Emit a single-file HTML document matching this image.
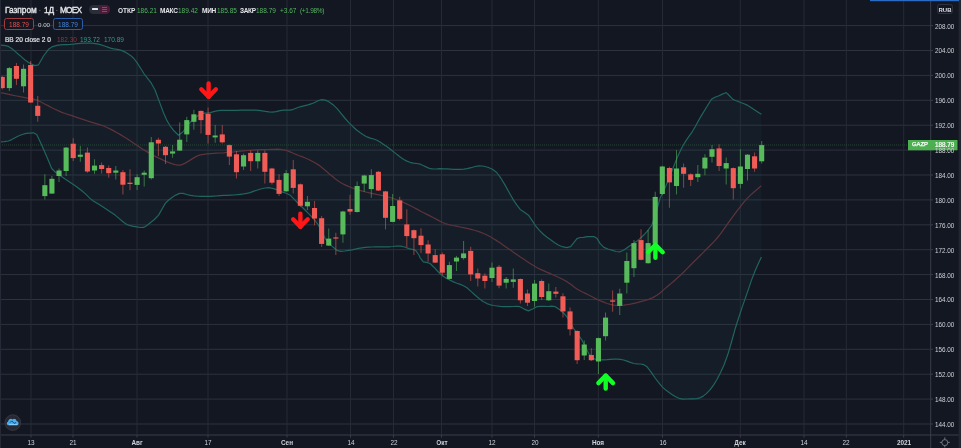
<!DOCTYPE html>
<html><head><meta charset="utf-8"><title>GAZP</title>
<style>
html,body{margin:0;padding:0;background:#131722;}
body{width:961px;height:448px;position:relative;overflow:hidden;font-family:"Liberation Sans",sans-serif;}
.t{position:absolute;white-space:nowrap;line-height:1;font-family:"Liberation Sans",sans-serif;will-change:transform;-webkit-font-smoothing:antialiased;}
.box{position:absolute;box-sizing:border-box;border-radius:2.5px;}
</style></head><body>
<svg width="961" height="448" viewBox="0 0 961 448" style="position:absolute;left:0;top:0">
<rect x="0" y="0" width="961" height="448" fill="#131722"/>
<path d="M0,25.6 H930.5 M0,50.5 H930.5 M0,75.4 H930.5 M0,100.3 H930.5 M0,125.2 H930.5 M0,150.1 H930.5 M0,175.0 H930.5 M0,199.9 H930.5 M0,224.8 H930.5 M0,249.7 H930.5 M0,274.6 H930.5 M0,299.5 H930.5 M0,324.4 H930.5 M0,349.3 H930.5 M0,374.2 H930.5 M0,399.1 H930.5 M0,424.0 H930.5" stroke="#2e323e" stroke-width="1" fill="none"/>
<path d="M31,0 V434.5 M73,0 V434.5 M137,0 V434.5 M208,0 V434.5 M287,0 V434.5 M350.5,0 V434.5 M393.5,0 V434.5 M441.5,0 V434.5 M492,0 V434.5 M534.5,0 V434.5 M598.3,0 V434.5 M662.5,0 V434.5 M740.3,0 V434.5 M804,0 V434.5 M846.3,0 V434.5 M903.7,0 V434.5" stroke="#262a35" stroke-width="1" fill="none"/>
<path d="M0.0,45.1 L4.2,45.4 L8.4,46.4 L11.7,48.5 L15.1,51.4 L18.4,54.3 L21.5,56.9 L24.7,59.7 L27.9,62.1 L31.0,63.8 L34.8,65.6 L38.5,64.8 L43.5,56.0 L48.5,49.3 L52.7,46.6 L56.9,45.4 L60.2,44.8 L63.6,44.7 L66.9,44.6 L70.2,44.4 L73.6,44.1 L77.0,43.7 L80.3,43.4 L83.7,43.2 L87.0,43.1 L90.4,43.2 L93.7,43.4 L97.1,43.9 L100.4,44.6 L103.8,45.7 L107.1,46.9 L110.5,48.1 L113.8,48.9 L117.2,49.4 L120.5,50.1 L123.8,51.4 L127.2,53.2 L130.5,55.4 L133.9,58.5 L137.2,62.9 L140.6,68.2 L143.9,73.5 L147.6,78.3 L151.3,83.2 L155.0,90.0 L160.0,103.4 L163.3,112.3 L166.7,120.1 L170.1,125.8 L173.4,130.2 L178.5,135.2 L182.8,132.0 L187.0,126.0 L190.5,122.1 L194.0,118.5 L197.5,115.9 L201.0,114.0 L204.1,113.2 L207.2,113.0 L210.3,112.6 L213.6,111.7 L216.9,110.9 L220.3,110.4 L223.6,110.3 L227.0,110.3 L230.3,110.4 L233.7,110.4 L237.3,110.3 L240.9,110.2 L244.5,110.1 L248.0,110.1 L251.6,110.1 L255.2,110.2 L258.8,110.4 L262.1,110.8 L265.5,111.4 L268.9,111.9 L272.2,112.1 L276.1,111.6 L280.0,110.7 L283.9,110.1 L286.9,110.2 L290.0,110.1 L293.3,109.3 L296.7,108.0 L300.0,106.8 L303.9,105.8 L307.9,104.8 L311.8,103.7 L315.1,102.2 L318.5,100.5 L321.8,99.7 L325.1,100.1 L328.5,101.4 L332.7,104.4 L336.9,108.4 L341.0,113.3 L345.2,118.5 L349.1,122.8 L353.0,126.7 L356.9,130.2 L360.3,132.8 L363.6,135.0 L367.0,136.9 L370.3,138.1 L373.7,139.0 L377.0,140.2 L380.4,142.2 L383.7,144.4 L387.1,146.8 L390.4,149.3 L393.8,151.9 L397.1,154.6 L400.5,157.2 L403.8,159.5 L406.9,161.1 L410.0,162.3 L413.4,163.1 L416.9,163.5 L420.3,164.2 L423.7,165.7 L427.0,167.4 L430.4,168.7 L433.7,169.0 L437.1,168.9 L440.4,168.7 L443.8,168.8 L447.1,168.9 L450.4,169.1 L453.8,169.3 L457.1,169.4 L460.5,169.3 L463.8,169.1 L467.2,168.7 L471.1,167.7 L475.0,166.5 L478.9,165.9 L482.1,166.0 L485.2,166.5 L488.4,167.5 L492.5,169.3 L496.7,172.5 L500.9,178.2 L505.1,185.1 L509.3,192.7 L513.5,200.1 L516.9,205.2 L520.2,209.4 L524.4,212.2 L528.5,215.2 L531.9,220.1 L535.2,225.3 L539.4,230.3 L543.6,234.5 L547.0,237.2 L550.3,239.5 L554.3,242.4 L558.3,245.0 L562.3,246.7 L566.5,247.7 L570.6,246.7 L573.8,242.7 L577.0,238.6 L580.2,237.5 L583.5,237.3 L587.0,236.7 L590.5,236.6 L593.9,236.6 L597.2,238.6 L600.0,243.4 L603.9,247.4 L607.9,249.0 L611.8,250.1 L616.0,251.5 L620.1,251.8 L624.3,249.8 L628.5,246.8 L632.4,244.3 L636.3,241.6 L640.2,238.4 L643.5,235.3 L646.9,231.7 L651.9,225.0 L656.5,211.0 L660.0,198.3 L663.4,191.6 L666.2,185.1 L669.0,178.2 L673.5,167.0 L677.9,155.9 L680.7,150.0 L683.5,144.7 L686.5,139.9 L689.5,135.7 L692.5,131.3 L695.5,126.2 L698.4,120.8 L701.4,115.6 L706.5,107.2 L711.5,99.3 L713.5,98.0 L716.2,96.7 L719.0,95.7 L721.8,94.4 L724.5,93.2 L726.2,92.6 L727.8,94.0 L732.9,99.3 L735.0,100.3 L740.0,102.2 L743.5,103.5 L747.1,105.1 L749.0,106.2 L754.0,109.6 L757.7,112.0 L761.4,114.3 L761.4,256.9 L758.0,264.3 L754.6,272.1 L751.6,279.9 L748.7,288.4 L745.7,297.1 L742.1,307.4 L738.6,318.0 L735.0,329.3 L731.5,342.0 L727.9,354.3 L724.3,364.2 L720.7,372.3 L717.1,379.3 L713.5,385.2 L710.0,389.9 L706.4,393.6 L703.2,396.1 L700.0,397.8 L696.9,398.6 L693.7,398.8 L690.6,398.8 L686.7,399.0 L682.8,399.1 L678.9,398.3 L674.7,396.3 L670.5,393.6 L666.4,390.6 L662.2,386.9 L658.9,382.9 L655.5,378.5 L651.3,372.3 L647.1,366.8 L643.8,364.7 L640.4,364.0 L637.1,363.9 L633.7,363.5 L630.4,362.4 L627.0,361.1 L623.6,360.0 L620.3,359.3 L617.0,359.2 L613.8,359.2 L610.4,359.4 L607.1,359.7 L603.8,359.9 L600.4,359.8 L597.0,359.7 L593.7,358.6 L588.7,353.6 L585.4,347.2 L582.0,340.2 L577.8,334.2 L573.6,328.5 L570.2,322.5 L566.9,316.8 L563.5,313.0 L560.2,310.1 L555.2,306.7 L551.6,306.2 L548.0,306.5 L544.5,306.4 L541.0,306.4 L536.8,306.7 L532.6,309.0 L528.4,310.9 L524.2,309.1 L520.0,306.7 L516.7,306.3 L513.3,306.5 L510.0,306.7 L506.8,306.6 L503.5,306.6 L500.2,306.4 L497.0,306.0 L493.6,305.5 L490.3,304.8 L486.9,303.6 L483.0,301.4 L479.1,298.5 L475.2,295.3 L471.0,291.4 L466.9,287.7 L463.5,285.7 L460.2,284.4 L456.9,283.3 L453.5,281.9 L449.6,280.0 L445.7,277.9 L441.8,275.2 L437.9,271.5 L433.9,267.2 L430.0,263.5 L426.7,262.4 L423.3,261.8 L420.0,257.6 L418.9,255.0 L415.6,250.4 L412.2,249.3 L408.9,248.6 L404.7,247.0 L400.5,246.1 L396.6,246.0 L392.7,246.5 L388.8,246.9 L385.4,246.9 L382.1,246.9 L378.8,246.9 L375.4,246.9 L372.0,247.0 L368.7,247.2 L365.4,247.4 L362.0,247.8 L358.6,248.4 L355.3,249.1 L352.0,249.8 L348.6,250.3 L344.7,251.0 L340.8,251.4 L336.9,250.3 L331.9,246.1 L328.5,242.9 L325.2,238.6 L321.9,232.0 L318.5,225.2 L314.3,219.6 L310.1,215.1 L305.9,210.8 L301.7,206.8 L298.4,203.5 L295.0,200.1 L290.3,195.3 L286.1,193.2 L281.9,191.9 L277.8,190.1 L273.6,188.6 L268.6,187.7 L264.7,188.0 L260.7,189.0 L256.8,190.2 L253.4,191.4 L250.0,192.6 L246.8,193.4 L243.7,193.9 L240.5,194.3 L237.3,194.7 L234.0,195.0 L230.6,195.1 L227.2,195.3 L223.9,195.4 L220.6,195.6 L217.2,195.9 L213.9,196.1 L210.5,196.3 L207.2,196.4 L203.8,196.4 L200.5,196.3 L197.1,196.1 L193.8,195.8 L190.4,195.4 L186.8,194.5 L183.1,193.4 L179.5,193.4 L175.8,195.1 L172.0,197.6 L168.7,200.0 L165.3,203.4 L161.9,209.2 L158.6,215.1 L154.4,219.5 L150.3,222.7 L146.9,225.5 L143.6,227.4 L140.2,227.5 L136.9,226.9 L133.5,226.4 L130.2,225.7 L126.8,224.4 L122.9,221.8 L119.0,218.4 L115.1,215.1 L111.3,212.4 L107.5,210.0 L103.8,207.6 L100.0,205.1 L96.7,203.0 L93.3,201.0 L90.0,198.4 L85.2,193.6 L81.8,190.7 L78.5,188.2 L75.2,185.8 L71.8,183.5 L68.5,181.2 L65.1,179.1 L61.8,176.8 L58.5,174.6 L55.2,172.0 L51.7,168.5 L46.9,156.9 L41.8,145.2 L36.7,134.5 L33.4,132.8 L30.1,133.1 L26.2,133.4 L22.3,134.5 L18.4,136.0 L15.1,137.7 L11.7,139.6 L8.4,141.0 L4.2,141.6 L0.0,141.8Z" fill="#26a69a" fill-opacity="0.05" stroke="none"/>
<path d="M0,145 H908" stroke="#3f8a43" stroke-width="1" stroke-dasharray="1,1" fill="none" opacity="0.4"/>
<path d="M0.0,92.5 L3.3,93.2 L6.7,93.9 L10.0,94.6 L13.3,95.4 L16.7,96.0 L20.0,96.7 L23.8,97.4 L27.5,98.1 L30.6,98.6 L33.6,99.2 L36.7,100.0 L40.9,102.0 L45.1,104.2 L48.5,105.9 L51.8,107.7 L55.1,109.3 L58.5,110.9 L61.8,112.3 L65.2,113.5 L68.5,114.6 L71.9,115.7 L75.2,116.8 L79.0,118.1 L82.8,119.3 L86.5,120.6 L90.3,121.8 L93.7,122.8 L97.0,123.8 L100.3,124.8 L103.7,126.0 L107.0,127.5 L110.4,129.1 L113.8,130.9 L117.1,132.7 L120.4,134.6 L123.8,136.7 L127.2,138.8 L130.5,141.0 L133.8,143.2 L137.2,145.5 L140.5,147.7 L143.8,149.9 L147.2,151.9 L150.5,153.9 L153.7,155.6 L156.8,157.1 L160.0,158.6 L164.2,160.6 L168.4,162.4 L171.7,163.7 L175.0,164.6 L177.8,165.1 L180.6,165.1 L184.8,163.4 L189.0,160.9 L192.9,158.4 L196.9,156.1 L200.2,154.9 L203.6,154.3 L207.0,153.9 L210.3,153.6 L213.6,153.3 L216.9,153.1 L220.3,153.0 L223.6,152.8 L226.9,152.5 L230.3,152.2 L233.7,151.9 L237.0,151.5 L240.3,151.2 L243.7,150.8 L247.1,150.5 L250.4,150.3 L253.8,150.1 L257.1,149.9 L260.5,149.7 L263.8,149.5 L267.2,149.5 L270.5,149.4 L273.8,149.3 L277.1,149.2 L280.5,149.3 L283.8,149.8 L287.1,150.6 L291.2,152.3 L295.3,154.2 L298.6,155.5 L302.0,156.7 L305.4,158.0 L308.7,159.5 L312.1,161.2 L315.4,163.0 L318.8,165.1 L322.1,167.7 L325.5,170.6 L328.8,173.5 L332.2,176.3 L335.5,179.1 L338.9,181.5 L342.2,183.5 L345.6,185.1 L348.9,186.6 L352.2,187.9 L355.6,189.1 L358.9,190.1 L362.4,191.1 L365.9,192.0 L369.5,192.8 L373.0,193.6 L376.6,194.4 L380.2,195.1 L383.9,195.9 L387.5,196.8 L391.2,197.9 L394.9,199.0 L398.5,200.3 L402.2,201.8 L406.1,203.6 L410.0,205.5 L413.4,207.3 L416.9,209.1 L420.3,211.0 L423.7,212.8 L426.8,214.4 L429.9,215.9 L433.0,217.5 L437.0,219.6 L441.0,221.7 L445.0,223.5 L448.8,224.7 L452.5,225.5 L456.2,226.2 L460.0,227.0 L463.4,227.7 L466.8,228.4 L470.2,229.1 L473.6,230.0 L476.9,231.0 L480.2,232.2 L483.6,233.5 L486.9,235.0 L490.3,236.8 L493.6,238.8 L497.0,240.9 L500.4,243.1 L503.7,245.4 L507.0,247.8 L510.4,250.1 L513.8,252.4 L517.1,254.8 L520.4,257.1 L523.8,259.3 L527.1,261.5 L530.5,263.7 L533.9,265.8 L537.2,267.7 L540.5,269.4 L543.9,270.9 L547.2,272.3 L550.6,273.7 L553.9,275.2 L557.2,276.8 L560.6,278.3 L563.9,280.0 L567.3,281.9 L571.1,284.5 L574.8,287.4 L578.6,290.0 L582.0,291.8 L585.3,293.4 L588.7,295.0 L592.6,297.0 L596.5,299.1 L600.4,300.9 L603.8,302.2 L607.1,303.5 L610.4,304.4 L613.8,305.1 L617.1,305.4 L620.5,305.4 L623.9,305.1 L627.2,304.7 L630.5,304.2 L633.9,303.4 L637.2,302.6 L640.5,301.7 L644.5,300.6 L648.6,299.3 L652.8,297.6 L656.9,295.3 L660.3,292.8 L663.6,289.9 L667.0,286.9 L670.4,284.1 L673.7,281.2 L677.0,278.3 L680.4,275.2 L683.8,272.0 L687.1,268.6 L690.4,265.2 L693.8,261.8 L696.9,258.7 L700.0,255.7 L703.1,252.6 L706.2,249.5 L709.9,245.8 L713.5,242.1 L717.2,238.0 L720.5,233.8 L723.9,229.2 L727.2,224.4 L730.6,219.6 L733.9,215.1 L737.2,210.7 L740.6,206.4 L743.9,202.2 L747.3,198.4 L750.8,194.9 L754.3,191.7 L757.9,188.7 L761.4,185.6" stroke="#5e333a" stroke-width="1.25" fill="none" stroke-linejoin="round"/>
<path d="M0.0,45.1 L4.2,45.4 L8.4,46.4 L11.7,48.5 L15.1,51.4 L18.4,54.3 L21.5,56.9 L24.7,59.7 L27.9,62.1 L31.0,63.8 L34.8,65.6 L38.5,64.8 L43.5,56.0 L48.5,49.3 L52.7,46.6 L56.9,45.4 L60.2,44.8 L63.6,44.7 L66.9,44.6 L70.2,44.4 L73.6,44.1 L77.0,43.7 L80.3,43.4 L83.7,43.2 L87.0,43.1 L90.4,43.2 L93.7,43.4 L97.1,43.9 L100.4,44.6 L103.8,45.7 L107.1,46.9 L110.5,48.1 L113.8,48.9 L117.2,49.4 L120.5,50.1 L123.8,51.4 L127.2,53.2 L130.5,55.4 L133.9,58.5 L137.2,62.9 L140.6,68.2 L143.9,73.5 L147.6,78.3 L151.3,83.2 L155.0,90.0 L160.0,103.4 L163.3,112.3 L166.7,120.1 L170.1,125.8 L173.4,130.2 L178.5,135.2 L182.8,132.0 L187.0,126.0 L190.5,122.1 L194.0,118.5 L197.5,115.9 L201.0,114.0 L204.1,113.2 L207.2,113.0 L210.3,112.6 L213.6,111.7 L216.9,110.9 L220.3,110.4 L223.6,110.3 L227.0,110.3 L230.3,110.4 L233.7,110.4 L237.3,110.3 L240.9,110.2 L244.5,110.1 L248.0,110.1 L251.6,110.1 L255.2,110.2 L258.8,110.4 L262.1,110.8 L265.5,111.4 L268.9,111.9 L272.2,112.1 L276.1,111.6 L280.0,110.7 L283.9,110.1 L286.9,110.2 L290.0,110.1 L293.3,109.3 L296.7,108.0 L300.0,106.8 L303.9,105.8 L307.9,104.8 L311.8,103.7 L315.1,102.2 L318.5,100.5 L321.8,99.7 L325.1,100.1 L328.5,101.4 L332.7,104.4 L336.9,108.4 L341.0,113.3 L345.2,118.5 L349.1,122.8 L353.0,126.7 L356.9,130.2 L360.3,132.8 L363.6,135.0 L367.0,136.9 L370.3,138.1 L373.7,139.0 L377.0,140.2 L380.4,142.2 L383.7,144.4 L387.1,146.8 L390.4,149.3 L393.8,151.9 L397.1,154.6 L400.5,157.2 L403.8,159.5 L406.9,161.1 L410.0,162.3 L413.4,163.1 L416.9,163.5 L420.3,164.2 L423.7,165.7 L427.0,167.4 L430.4,168.7 L433.7,169.0 L437.1,168.9 L440.4,168.7 L443.8,168.8 L447.1,168.9 L450.4,169.1 L453.8,169.3 L457.1,169.4 L460.5,169.3 L463.8,169.1 L467.2,168.7 L471.1,167.7 L475.0,166.5 L478.9,165.9 L482.1,166.0 L485.2,166.5 L488.4,167.5 L492.5,169.3 L496.7,172.5 L500.9,178.2 L505.1,185.1 L509.3,192.7 L513.5,200.1 L516.9,205.2 L520.2,209.4 L524.4,212.2 L528.5,215.2 L531.9,220.1 L535.2,225.3 L539.4,230.3 L543.6,234.5 L547.0,237.2 L550.3,239.5 L554.3,242.4 L558.3,245.0 L562.3,246.7 L566.5,247.7 L570.6,246.7 L573.8,242.7 L577.0,238.6 L580.2,237.5 L583.5,237.3 L587.0,236.7 L590.5,236.6 L593.9,236.6 L597.2,238.6 L600.0,243.4 L603.9,247.4 L607.9,249.0 L611.8,250.1 L616.0,251.5 L620.1,251.8 L624.3,249.8 L628.5,246.8 L632.4,244.3 L636.3,241.6 L640.2,238.4 L643.5,235.3 L646.9,231.7 L651.9,225.0 L656.5,211.0 L660.0,198.3 L663.4,191.6 L666.2,185.1 L669.0,178.2 L673.5,167.0 L677.9,155.9 L680.7,150.0 L683.5,144.7 L686.5,139.9 L689.5,135.7 L692.5,131.3 L695.5,126.2 L698.4,120.8 L701.4,115.6 L706.5,107.2 L711.5,99.3 L713.5,98.0 L716.2,96.7 L719.0,95.7 L721.8,94.4 L724.5,93.2 L726.2,92.6 L727.8,94.0 L732.9,99.3 L735.0,100.3 L740.0,102.2 L743.5,103.5 L747.1,105.1 L749.0,106.2 L754.0,109.6 L757.7,112.0 L761.4,114.3" stroke="#20655f" stroke-width="1.2" fill="none" stroke-linejoin="round"/>
<path d="M0.0,141.8 L4.2,141.6 L8.4,141.0 L11.7,139.6 L15.1,137.7 L18.4,136.0 L22.3,134.5 L26.2,133.4 L30.1,133.1 L33.4,132.8 L36.7,134.5 L41.8,145.2 L46.9,156.9 L51.7,168.5 L55.2,172.0 L58.5,174.6 L61.8,176.8 L65.1,179.1 L68.5,181.2 L71.8,183.5 L75.2,185.8 L78.5,188.2 L81.8,190.7 L85.2,193.6 L90.0,198.4 L93.3,201.0 L96.7,203.0 L100.0,205.1 L103.8,207.6 L107.5,210.0 L111.3,212.4 L115.1,215.1 L119.0,218.4 L122.9,221.8 L126.8,224.4 L130.2,225.7 L133.5,226.4 L136.9,226.9 L140.2,227.5 L143.6,227.4 L146.9,225.5 L150.3,222.7 L154.4,219.5 L158.6,215.1 L161.9,209.2 L165.3,203.4 L168.7,200.0 L172.0,197.6 L175.8,195.1 L179.5,193.4 L183.1,193.4 L186.8,194.5 L190.4,195.4 L193.8,195.8 L197.1,196.1 L200.5,196.3 L203.8,196.4 L207.2,196.4 L210.5,196.3 L213.9,196.1 L217.2,195.9 L220.6,195.6 L223.9,195.4 L227.2,195.3 L230.6,195.1 L234.0,195.0 L237.3,194.7 L240.5,194.3 L243.7,193.9 L246.8,193.4 L250.0,192.6 L253.4,191.4 L256.8,190.2 L260.7,189.0 L264.7,188.0 L268.6,187.7 L273.6,188.6 L277.8,190.1 L281.9,191.9 L286.1,193.2 L290.3,195.3 L295.0,200.1 L298.4,203.5 L301.7,206.8 L305.9,210.8 L310.1,215.1 L314.3,219.6 L318.5,225.2 L321.9,232.0 L325.2,238.6 L328.5,242.9 L331.9,246.1 L336.9,250.3 L340.8,251.4 L344.7,251.0 L348.6,250.3 L352.0,249.8 L355.3,249.1 L358.6,248.4 L362.0,247.8 L365.4,247.4 L368.7,247.2 L372.0,247.0 L375.4,246.9 L378.8,246.9 L382.1,246.9 L385.4,246.9 L388.8,246.9 L392.7,246.5 L396.6,246.0 L400.5,246.1 L404.7,247.0 L408.9,248.6 L412.2,249.3 L415.6,250.4 L418.9,255.0 L420.0,257.6 L423.3,261.8 L426.7,262.4 L430.0,263.5 L433.9,267.2 L437.9,271.5 L441.8,275.2 L445.7,277.9 L449.6,280.0 L453.5,281.9 L456.9,283.3 L460.2,284.4 L463.5,285.7 L466.9,287.7 L471.0,291.4 L475.2,295.3 L479.1,298.5 L483.0,301.4 L486.9,303.6 L490.3,304.8 L493.6,305.5 L497.0,306.0 L500.2,306.4 L503.5,306.6 L506.8,306.6 L510.0,306.7 L513.3,306.5 L516.7,306.3 L520.0,306.7 L524.2,309.1 L528.4,310.9 L532.6,309.0 L536.8,306.7 L541.0,306.4 L544.5,306.4 L548.0,306.5 L551.6,306.2 L555.2,306.7 L560.2,310.1 L563.5,313.0 L566.9,316.8 L570.2,322.5 L573.6,328.5 L577.8,334.2 L582.0,340.2 L585.4,347.2 L588.7,353.6 L593.7,358.6 L597.0,359.7 L600.4,359.8 L603.8,359.9 L607.1,359.7 L610.4,359.4 L613.8,359.2 L617.0,359.2 L620.3,359.3 L623.6,360.0 L627.0,361.1 L630.4,362.4 L633.7,363.5 L637.1,363.9 L640.4,364.0 L643.8,364.7 L647.1,366.8 L651.3,372.3 L655.5,378.5 L658.9,382.9 L662.2,386.9 L666.4,390.6 L670.5,393.6 L674.7,396.3 L678.9,398.3 L682.8,399.1 L686.7,399.0 L690.6,398.8 L693.7,398.8 L696.9,398.6 L700.0,397.8 L703.2,396.1 L706.4,393.6 L710.0,389.9 L713.5,385.2 L717.1,379.3 L720.7,372.3 L724.3,364.2 L727.9,354.3 L731.5,342.0 L735.0,329.3 L738.6,318.0 L742.1,307.4 L745.7,297.1 L748.7,288.4 L751.6,279.9 L754.6,272.1 L758.0,264.3 L761.4,256.9" stroke="#20655f" stroke-width="1.2" fill="none" stroke-linejoin="round"/>
<path d="M2.25,76.0 V89.4" stroke="#f15c56" stroke-width="1.05" stroke-opacity="0.55"/>
<rect x="-0.30" y="76.9" width="5.1" height="11.2" fill="#f15c56"/>
<path d="M9.35,66.9 V91.0" stroke="#57ba5b" stroke-width="1.05" stroke-opacity="0.55"/>
<rect x="6.80" y="68.1" width="5.1" height="20.0" fill="#57ba5b"/>
<path d="M16.45,63.0 V85.0" stroke="#f15c56" stroke-width="1.05" stroke-opacity="0.55"/>
<rect x="13.89" y="66.0" width="5.1" height="12.8" fill="#f15c56"/>
<path d="M23.54,64.4 V92.5" stroke="#57ba5b" stroke-width="1.05" stroke-opacity="0.55"/>
<rect x="20.99" y="68.8" width="5.1" height="17.5" fill="#57ba5b"/>
<path d="M30.64,61.0 V103.0" stroke="#f15c56" stroke-width="1.05" stroke-opacity="0.55"/>
<rect x="28.09" y="65.0" width="5.1" height="37.5" fill="#f15c56"/>
<path d="M37.74,96.0 V121.8" stroke="#f15c56" stroke-width="1.05" stroke-opacity="0.55"/>
<rect x="35.19" y="105.8" width="5.1" height="10.1" fill="#f15c56"/>
<path d="M44.84,174.3 V199.4" stroke="#57ba5b" stroke-width="1.05" stroke-opacity="0.55"/>
<rect x="42.29" y="185.2" width="5.1" height="10.9" fill="#57ba5b"/>
<path d="M51.93,176.0 V193.6" stroke="#57ba5b" stroke-width="1.05" stroke-opacity="0.55"/>
<rect x="49.38" y="178.8" width="5.1" height="14.8" fill="#57ba5b"/>
<path d="M59.03,168.5 V181.9" stroke="#57ba5b" stroke-width="1.05" stroke-opacity="0.55"/>
<rect x="56.48" y="170.5" width="5.1" height="5.5" fill="#57ba5b"/>
<path d="M66.13,147.0 V176.0" stroke="#57ba5b" stroke-width="1.05" stroke-opacity="0.55"/>
<rect x="63.58" y="147.6" width="5.1" height="23.4" fill="#57ba5b"/>
<path d="M73.22,138.3 V160.9" stroke="#f15c56" stroke-width="1.05" stroke-opacity="0.55"/>
<rect x="70.67" y="143.7" width="5.1" height="14.4" fill="#f15c56"/>
<path d="M80.32,145.9 V161.8" stroke="#57ba5b" stroke-width="1.05" stroke-opacity="0.55"/>
<rect x="77.77" y="154.7" width="5.1" height="2.1" fill="#57ba5b"/>
<path d="M87.42,147.6 V172.7" stroke="#f15c56" stroke-width="1.05" stroke-opacity="0.55"/>
<rect x="84.87" y="152.6" width="5.1" height="18.9" fill="#f15c56"/>
<path d="M94.52,159.3 V173.8" stroke="#57ba5b" stroke-width="1.05" stroke-opacity="0.55"/>
<rect x="91.97" y="165.6" width="5.1" height="4.9" fill="#57ba5b"/>
<path d="M101.62,162.6 V173.5" stroke="#f15c56" stroke-width="1.05" stroke-opacity="0.55"/>
<rect x="99.07" y="165.1" width="5.1" height="3.9" fill="#f15c56"/>
<path d="M108.71,165.6 V177.7" stroke="#f15c56" stroke-width="1.05" stroke-opacity="0.55"/>
<rect x="106.16" y="168.0" width="5.1" height="5.2" fill="#f15c56"/>
<path d="M115.81,166.0 V179.4" stroke="#57ba5b" stroke-width="1.05" stroke-opacity="0.55"/>
<rect x="113.26" y="170.5" width="5.1" height="2.2" fill="#57ba5b"/>
<path d="M122.91,170.1 V194.4" stroke="#f15c56" stroke-width="1.05" stroke-opacity="0.55"/>
<rect x="120.36" y="172.2" width="5.1" height="12.5" fill="#f15c56"/>
<path d="M130.00,169.3 V190.2" stroke="#f15c56" stroke-width="1.05" stroke-opacity="0.55"/>
<rect x="127.45" y="182.7" width="5.1" height="1.3" fill="#f15c56"/>
<path d="M137.10,174.3 V189.9" stroke="#57ba5b" stroke-width="1.05" stroke-opacity="0.55"/>
<rect x="134.55" y="177.2" width="5.1" height="7.7" fill="#57ba5b"/>
<path d="M144.20,170.5 V186.5" stroke="#57ba5b" stroke-width="1.05" stroke-opacity="0.55"/>
<rect x="141.65" y="172.7" width="5.1" height="2.1" fill="#57ba5b"/>
<path d="M151.30,137.0 V179.4" stroke="#57ba5b" stroke-width="1.05" stroke-opacity="0.55"/>
<rect x="148.75" y="142.3" width="5.1" height="35.9" fill="#57ba5b"/>
<path d="M158.40,137.8 V156.0" stroke="#f15c56" stroke-width="1.05" stroke-opacity="0.55"/>
<rect x="155.84" y="139.8" width="5.1" height="3.7" fill="#f15c56"/>
<path d="M165.49,146.0 V164.0" stroke="#f15c56" stroke-width="1.05" stroke-opacity="0.55"/>
<rect x="162.94" y="146.8" width="5.1" height="8.4" fill="#f15c56"/>
<path d="M172.59,145.1 V157.7" stroke="#57ba5b" stroke-width="1.05" stroke-opacity="0.55"/>
<rect x="170.04" y="151.4" width="5.1" height="2.2" fill="#57ba5b"/>
<path d="M179.69,122.6 V151.0" stroke="#57ba5b" stroke-width="1.05" stroke-opacity="0.55"/>
<rect x="177.14" y="139.7" width="5.1" height="10.9" fill="#57ba5b"/>
<path d="M186.78,116.8 V141.9" stroke="#57ba5b" stroke-width="1.05" stroke-opacity="0.55"/>
<rect x="184.23" y="120.1" width="5.1" height="14.3" fill="#57ba5b"/>
<path d="M193.88,109.7 V129.8" stroke="#57ba5b" stroke-width="1.05" stroke-opacity="0.55"/>
<rect x="191.33" y="114.3" width="5.1" height="7.5" fill="#57ba5b"/>
<path d="M200.98,110.4 V133.5" stroke="#f15c56" stroke-width="1.05" stroke-opacity="0.55"/>
<rect x="198.43" y="110.9" width="5.1" height="9.2" fill="#f15c56"/>
<path d="M208.08,107.6 V143.6" stroke="#f15c56" stroke-width="1.05" stroke-opacity="0.55"/>
<rect x="205.53" y="113.8" width="5.1" height="21.1" fill="#f15c56"/>
<path d="M215.18,125.1 V142.7" stroke="#57ba5b" stroke-width="1.05" stroke-opacity="0.55"/>
<rect x="212.62" y="135.5" width="5.1" height="1.9" fill="#57ba5b"/>
<path d="M222.27,125.1 V143.6" stroke="#f15c56" stroke-width="1.05" stroke-opacity="0.55"/>
<rect x="219.72" y="134.4" width="5.1" height="7.9" fill="#f15c56"/>
<path d="M229.37,144.4 V165.1" stroke="#f15c56" stroke-width="1.05" stroke-opacity="0.55"/>
<rect x="226.82" y="145.1" width="5.1" height="11.5" fill="#f15c56"/>
<path d="M236.47,150.9 V178.5" stroke="#f15c56" stroke-width="1.05" stroke-opacity="0.55"/>
<rect x="233.92" y="154.3" width="5.1" height="17.9" fill="#f15c56"/>
<path d="M243.56,153.4 V170.1" stroke="#57ba5b" stroke-width="1.05" stroke-opacity="0.55"/>
<rect x="241.01" y="155.2" width="5.1" height="11.3" fill="#57ba5b"/>
<path d="M250.66,150.6 V171.0" stroke="#f15c56" stroke-width="1.05" stroke-opacity="0.55"/>
<rect x="248.11" y="152.9" width="5.1" height="8.3" fill="#f15c56"/>
<path d="M257.76,150.6 V168.5" stroke="#57ba5b" stroke-width="1.05" stroke-opacity="0.55"/>
<rect x="255.21" y="152.9" width="5.1" height="8.4" fill="#57ba5b"/>
<path d="M264.86,150.6 V183.5" stroke="#f15c56" stroke-width="1.05" stroke-opacity="0.55"/>
<rect x="262.31" y="152.9" width="5.1" height="18.9" fill="#f15c56"/>
<path d="M271.95,167.7 V184.4" stroke="#f15c56" stroke-width="1.05" stroke-opacity="0.55"/>
<rect x="269.40" y="168.5" width="5.1" height="14.2" fill="#f15c56"/>
<path d="M279.05,174.3 V196.1" stroke="#f15c56" stroke-width="1.05" stroke-opacity="0.55"/>
<rect x="276.50" y="179.9" width="5.1" height="14.0" fill="#f15c56"/>
<path d="M286.15,170.1 V191.8" stroke="#57ba5b" stroke-width="1.05" stroke-opacity="0.55"/>
<rect x="283.60" y="173.2" width="5.1" height="18.1" fill="#57ba5b"/>
<path d="M293.25,160.1 V193.5" stroke="#f15c56" stroke-width="1.05" stroke-opacity="0.55"/>
<rect x="290.70" y="169.3" width="5.1" height="18.6" fill="#f15c56"/>
<path d="M300.35,183.5 V206.8" stroke="#f15c56" stroke-width="1.05" stroke-opacity="0.55"/>
<rect x="297.80" y="184.3" width="5.1" height="21.5" fill="#f15c56"/>
<path d="M307.44,196.0 V210.1" stroke="#57ba5b" stroke-width="1.05" stroke-opacity="0.55"/>
<rect x="304.89" y="201.8" width="5.1" height="4.5" fill="#57ba5b"/>
<path d="M314.54,201.0 V225.2" stroke="#f15c56" stroke-width="1.05" stroke-opacity="0.55"/>
<rect x="311.99" y="208.0" width="5.1" height="10.5" fill="#f15c56"/>
<path d="M321.64,216.0 V246.9" stroke="#f15c56" stroke-width="1.05" stroke-opacity="0.55"/>
<rect x="319.09" y="218.2" width="5.1" height="25.7" fill="#f15c56"/>
<path d="M328.74,228.5 V246.1" stroke="#57ba5b" stroke-width="1.05" stroke-opacity="0.55"/>
<rect x="326.19" y="238.6" width="5.1" height="7.0" fill="#57ba5b"/>
<path d="M335.83,232.7 V255.0" stroke="#f15c56" stroke-width="1.05" stroke-opacity="0.55"/>
<rect x="333.28" y="237.4" width="5.1" height="1.2" fill="#f15c56"/>
<path d="M342.93,210.8 V242.8" stroke="#57ba5b" stroke-width="1.05" stroke-opacity="0.55"/>
<rect x="340.38" y="211.5" width="5.1" height="22.9" fill="#57ba5b"/>
<path d="M350.03,194.8 V214.8" stroke="#f15c56" stroke-width="1.05" stroke-opacity="0.55"/>
<rect x="347.48" y="209.0" width="5.1" height="2.6" fill="#f15c56"/>
<path d="M357.12,181.4 V212.6" stroke="#57ba5b" stroke-width="1.05" stroke-opacity="0.55"/>
<rect x="354.57" y="186.0" width="5.1" height="26.0" fill="#57ba5b"/>
<path d="M364.22,174.8 V191.8" stroke="#57ba5b" stroke-width="1.05" stroke-opacity="0.55"/>
<rect x="361.67" y="175.5" width="5.1" height="8.1" fill="#57ba5b"/>
<path d="M371.32,169.2 V197.7" stroke="#57ba5b" stroke-width="1.05" stroke-opacity="0.55"/>
<rect x="368.77" y="175.1" width="5.1" height="14.0" fill="#57ba5b"/>
<path d="M378.42,170.9 V191.0" stroke="#f15c56" stroke-width="1.05" stroke-opacity="0.55"/>
<rect x="375.87" y="171.8" width="5.1" height="18.7" fill="#f15c56"/>
<path d="M385.51,190.9 V229.4" stroke="#f15c56" stroke-width="1.05" stroke-opacity="0.55"/>
<rect x="382.96" y="191.4" width="5.1" height="26.4" fill="#f15c56"/>
<path d="M392.61,194.0 V222.2" stroke="#57ba5b" stroke-width="1.05" stroke-opacity="0.55"/>
<rect x="390.06" y="206.0" width="5.1" height="15.9" fill="#57ba5b"/>
<path d="M399.71,196.8 V220.3" stroke="#f15c56" stroke-width="1.05" stroke-opacity="0.55"/>
<rect x="397.16" y="200.4" width="5.1" height="18.5" fill="#f15c56"/>
<path d="M406.81,209.3 V246.9" stroke="#f15c56" stroke-width="1.05" stroke-opacity="0.55"/>
<rect x="404.26" y="224.4" width="5.1" height="11.7" fill="#f15c56"/>
<path d="M413.91,229.4 V255.0" stroke="#f15c56" stroke-width="1.05" stroke-opacity="0.55"/>
<rect x="411.36" y="230.2" width="5.1" height="8.0" fill="#f15c56"/>
<path d="M421.00,228.2 V253.0" stroke="#f15c56" stroke-width="1.05" stroke-opacity="0.55"/>
<rect x="418.45" y="235.7" width="5.1" height="9.4" fill="#f15c56"/>
<path d="M428.10,240.3 V261.8" stroke="#f15c56" stroke-width="1.05" stroke-opacity="0.55"/>
<rect x="425.55" y="244.5" width="5.1" height="9.0" fill="#f15c56"/>
<path d="M435.20,249.2 V263.1" stroke="#f15c56" stroke-width="1.05" stroke-opacity="0.55"/>
<rect x="432.65" y="255.1" width="5.1" height="7.5" fill="#f15c56"/>
<path d="M442.30,252.6 V275.2" stroke="#f15c56" stroke-width="1.05" stroke-opacity="0.55"/>
<rect x="439.75" y="254.3" width="5.1" height="18.4" fill="#f15c56"/>
<path d="M449.39,261.8 V279.4" stroke="#57ba5b" stroke-width="1.05" stroke-opacity="0.55"/>
<rect x="446.84" y="265.1" width="5.1" height="13.8" fill="#57ba5b"/>
<path d="M456.49,255.9 V271.0" stroke="#57ba5b" stroke-width="1.05" stroke-opacity="0.55"/>
<rect x="453.94" y="257.6" width="5.1" height="3.9" fill="#57ba5b"/>
<path d="M463.59,240.9 V259.8" stroke="#57ba5b" stroke-width="1.05" stroke-opacity="0.55"/>
<rect x="461.04" y="253.4" width="5.1" height="4.7" fill="#57ba5b"/>
<path d="M470.69,246.7 V281.0" stroke="#f15c56" stroke-width="1.05" stroke-opacity="0.55"/>
<rect x="468.13" y="250.9" width="5.1" height="23.5" fill="#f15c56"/>
<path d="M477.78,268.5 V286.6" stroke="#f15c56" stroke-width="1.05" stroke-opacity="0.55"/>
<rect x="475.23" y="273.2" width="5.1" height="5.3" fill="#f15c56"/>
<path d="M484.88,273.2 V288.6" stroke="#f15c56" stroke-width="1.05" stroke-opacity="0.55"/>
<rect x="482.33" y="275.7" width="5.1" height="5.3" fill="#f15c56"/>
<path d="M491.98,262.6 V281.9" stroke="#57ba5b" stroke-width="1.05" stroke-opacity="0.55"/>
<rect x="489.43" y="267.7" width="5.1" height="10.3" fill="#57ba5b"/>
<path d="M499.07,265.1 V288.2" stroke="#f15c56" stroke-width="1.05" stroke-opacity="0.55"/>
<rect x="496.52" y="266.8" width="5.1" height="18.8" fill="#f15c56"/>
<path d="M506.17,276.9 V288.6" stroke="#57ba5b" stroke-width="1.05" stroke-opacity="0.55"/>
<rect x="503.62" y="278.9" width="5.1" height="3.8" fill="#57ba5b"/>
<path d="M513.27,268.5 V287.7" stroke="#57ba5b" stroke-width="1.05" stroke-opacity="0.55"/>
<rect x="510.72" y="279.4" width="5.1" height="2.5" fill="#57ba5b"/>
<path d="M520.37,278.5 V303.6" stroke="#f15c56" stroke-width="1.05" stroke-opacity="0.55"/>
<rect x="517.82" y="279.0" width="5.1" height="21.3" fill="#f15c56"/>
<path d="M527.47,289.4 V305.9" stroke="#f15c56" stroke-width="1.05" stroke-opacity="0.55"/>
<rect x="524.92" y="293.5" width="5.1" height="9.2" fill="#f15c56"/>
<path d="M534.56,279.9 V306.7" stroke="#57ba5b" stroke-width="1.05" stroke-opacity="0.55"/>
<rect x="532.01" y="283.6" width="5.1" height="17.4" fill="#57ba5b"/>
<path d="M541.66,279.4 V300.0" stroke="#f15c56" stroke-width="1.05" stroke-opacity="0.55"/>
<rect x="539.11" y="281.0" width="5.1" height="16.0" fill="#f15c56"/>
<path d="M548.76,283.6 V301.0" stroke="#57ba5b" stroke-width="1.05" stroke-opacity="0.55"/>
<rect x="546.21" y="291.2" width="5.1" height="9.1" fill="#57ba5b"/>
<path d="M555.86,286.9 V297.6" stroke="#f15c56" stroke-width="1.05" stroke-opacity="0.55"/>
<rect x="553.31" y="291.6" width="5.1" height="2.2" fill="#f15c56"/>
<path d="M562.95,293.3 V317.6" stroke="#f15c56" stroke-width="1.05" stroke-opacity="0.55"/>
<rect x="560.40" y="296.3" width="5.1" height="15.1" fill="#f15c56"/>
<path d="M570.05,307.6 V335.5" stroke="#f15c56" stroke-width="1.05" stroke-opacity="0.55"/>
<rect x="567.50" y="311.4" width="5.1" height="17.9" fill="#f15c56"/>
<path d="M577.15,330.2 V364.0" stroke="#f15c56" stroke-width="1.05" stroke-opacity="0.55"/>
<rect x="574.60" y="331.0" width="5.1" height="29.2" fill="#f15c56"/>
<path d="M584.25,340.5 V360.0" stroke="#57ba5b" stroke-width="1.05" stroke-opacity="0.55"/>
<rect x="581.70" y="344.5" width="5.1" height="11.0" fill="#57ba5b"/>
<path d="M591.34,348.3 V361.0" stroke="#f15c56" stroke-width="1.05" stroke-opacity="0.55"/>
<rect x="588.79" y="355.0" width="5.1" height="5.2" fill="#f15c56"/>
<path d="M598.44,337.5 V374.0" stroke="#57ba5b" stroke-width="1.05" stroke-opacity="0.55"/>
<rect x="595.89" y="338.1" width="5.1" height="23.4" fill="#57ba5b"/>
<path d="M605.54,312.6 V340.5" stroke="#57ba5b" stroke-width="1.05" stroke-opacity="0.55"/>
<rect x="602.99" y="317.6" width="5.1" height="18.6" fill="#57ba5b"/>
<path d="M612.63,290.5 V311.8" stroke="#f15c56" stroke-width="1.05" stroke-opacity="0.55"/>
<rect x="610.09" y="300.4" width="5.1" height="1.3" fill="#f15c56"/>
<path d="M619.73,288.8 V315.1" stroke="#57ba5b" stroke-width="1.05" stroke-opacity="0.55"/>
<rect x="617.18" y="293.5" width="5.1" height="12.4" fill="#57ba5b"/>
<path d="M626.83,252.6 V293.5" stroke="#57ba5b" stroke-width="1.05" stroke-opacity="0.55"/>
<rect x="624.28" y="261.0" width="5.1" height="21.7" fill="#57ba5b"/>
<path d="M633.93,240.1 V276.9" stroke="#57ba5b" stroke-width="1.05" stroke-opacity="0.55"/>
<rect x="631.38" y="243.1" width="5.1" height="25.1" fill="#57ba5b"/>
<path d="M641.02,229.2 V260.3" stroke="#f15c56" stroke-width="1.05" stroke-opacity="0.55"/>
<rect x="638.48" y="240.1" width="5.1" height="19.7" fill="#f15c56"/>
<path d="M648.12,230.0 V263.7" stroke="#57ba5b" stroke-width="1.05" stroke-opacity="0.55"/>
<rect x="645.57" y="243.1" width="5.1" height="20.1" fill="#57ba5b"/>
<path d="M655.22,191.8 V244.0" stroke="#57ba5b" stroke-width="1.05" stroke-opacity="0.55"/>
<rect x="652.67" y="196.9" width="5.1" height="46.7" fill="#57ba5b"/>
<path d="M662.32,165.8 V195.0" stroke="#57ba5b" stroke-width="1.05" stroke-opacity="0.55"/>
<rect x="659.77" y="166.5" width="5.1" height="27.5" fill="#57ba5b"/>
<path d="M669.41,166.8 V207.8" stroke="#f15c56" stroke-width="1.05" stroke-opacity="0.55"/>
<rect x="666.87" y="168.0" width="5.1" height="14.4" fill="#f15c56"/>
<path d="M676.51,150.1 V194.4" stroke="#57ba5b" stroke-width="1.05" stroke-opacity="0.55"/>
<rect x="673.96" y="168.5" width="5.1" height="17.5" fill="#57ba5b"/>
<path d="M683.61,163.5 V187.7" stroke="#f15c56" stroke-width="1.05" stroke-opacity="0.55"/>
<rect x="681.06" y="167.3" width="5.1" height="6.5" fill="#f15c56"/>
<path d="M690.71,173.2 V186.0" stroke="#f15c56" stroke-width="1.05" stroke-opacity="0.55"/>
<rect x="688.16" y="174.3" width="5.1" height="5.6" fill="#f15c56"/>
<path d="M697.81,165.1 V181.9" stroke="#57ba5b" stroke-width="1.05" stroke-opacity="0.55"/>
<rect x="695.26" y="173.8" width="5.1" height="3.4" fill="#57ba5b"/>
<path d="M704.90,154.2 V175.2" stroke="#57ba5b" stroke-width="1.05" stroke-opacity="0.55"/>
<rect x="702.35" y="157.6" width="5.1" height="10.9" fill="#57ba5b"/>
<path d="M712.00,145.0 V162.6" stroke="#57ba5b" stroke-width="1.05" stroke-opacity="0.55"/>
<rect x="709.45" y="149.2" width="5.1" height="7.6" fill="#57ba5b"/>
<path d="M719.10,144.2 V171.0" stroke="#f15c56" stroke-width="1.05" stroke-opacity="0.55"/>
<rect x="716.55" y="148.4" width="5.1" height="17.6" fill="#f15c56"/>
<path d="M726.20,157.6 V184.4" stroke="#57ba5b" stroke-width="1.05" stroke-opacity="0.55"/>
<rect x="723.65" y="163.1" width="5.1" height="5.4" fill="#57ba5b"/>
<path d="M733.29,167.5 V199.4" stroke="#f15c56" stroke-width="1.05" stroke-opacity="0.55"/>
<rect x="730.74" y="168.1" width="5.1" height="20.1" fill="#f15c56"/>
<path d="M740.39,149.2 V188.6" stroke="#57ba5b" stroke-width="1.05" stroke-opacity="0.55"/>
<rect x="737.84" y="166.5" width="5.1" height="17.4" fill="#57ba5b"/>
<path d="M747.49,154.0 V180.5" stroke="#57ba5b" stroke-width="1.05" stroke-opacity="0.55"/>
<rect x="744.94" y="154.7" width="5.1" height="14.3" fill="#57ba5b"/>
<path d="M754.59,152.6 V171.8" stroke="#f15c56" stroke-width="1.05" stroke-opacity="0.55"/>
<rect x="752.04" y="156.3" width="5.1" height="12.2" fill="#f15c56"/>
<path d="M761.68,141.0 V163.5" stroke="#57ba5b" stroke-width="1.05" stroke-opacity="0.55"/>
<rect x="759.13" y="145.1" width="5.1" height="16.2" fill="#57ba5b"/>
<g stroke="#ff1616" stroke-width="4.4" fill="none" stroke-linecap="round" stroke-linejoin="round"><path d="M208.6,83.4 V96.8"/><path d="M201.29999999999998,89.3 L208.6,96.8 L215.9,89.3"/></g>
<g stroke="#ff1616" stroke-width="4.4" fill="none" stroke-linecap="round" stroke-linejoin="round"><path d="M300.4,213.79999999999998 V226.8"/><path d="M293.09999999999997,219.3 L300.4,226.8 L307.7,219.3"/></g>
<g stroke="#10ff24" stroke-width="4.4" fill="none" stroke-linecap="round" stroke-linejoin="round"><path d="M605.7,388.6 V375.59999999999997"/><path d="M598.4000000000001,383.09999999999997 L605.7,375.59999999999997 L613.0,383.09999999999997"/></g>
<g stroke="#10ff24" stroke-width="4.4" fill="none" stroke-linecap="round" stroke-linejoin="round"><path d="M655.4,257.7 V244.7"/><path d="M648.1,252.2 L655.4,244.7 L662.6999999999999,252.2"/></g>
<rect x="931" y="0" width="30" height="448" fill="#131722"/>
<rect x="0" y="435" width="961" height="13" fill="#131722"/>
<path d="M930.7,0 V448" stroke="#3a3e4a" stroke-width="1"/>
<path d="M0,435.0 H961" stroke="#3a3e4a" stroke-width="1"/>
<path d="M31,435 V437.5 M73,435 V437.5 M137,435 V437.5 M208,435 V437.5 M287,435 V437.5 M350.5,435 V437.5 M393.5,435 V437.5 M441.5,435 V437.5 M492,435 V437.5 M534.5,435 V437.5 M598.3,435 V437.5 M662.5,435 V437.5 M740.3,435 V437.5 M804,435 V437.5 M846.3,435 V437.5 M903.7,435 V437.5 M931,25.6 H933 M931,50.5 H933 M931,75.4 H933 M931,100.3 H933 M931,125.2 H933 M931,150.1 H933 M931,175.0 H933 M931,199.9 H933 M931,224.8 H933 M931,249.7 H933 M931,274.6 H933 M931,299.5 H933 M931,324.4 H933 M931,349.3 H933 M931,374.2 H933 M931,399.1 H933 M931,424.0 H933" stroke="#3a3e4a" stroke-width="1"/>
<rect x="958.6" y="0" width="2.4" height="448" fill="#23262f"/>
<rect x="0" y="0" width="1" height="448" fill="#262a36"/>
<rect x="870" y="0" width="89" height="1.2" fill="#2a6bc4"/>
<rect x="908" y="140" width="49.5" height="10.3" fill="#4caf50"/>
<circle cx="12.8" cy="422.6" r="7.8" fill="#262833" stroke="#3b3842" stroke-width="0.9"/>
<path d="M8.7,425.3 C6.5,425.3 6.1,422.5 8.1,421.8 C8.3,419.6 10.8,418 12.6,419.4 C14,418.1 16.3,419 16.5,420.9 C19,420.9 19.5,425.3 17,425.3 Z" fill="#4aaef0"/>
<path d="M9.4,424.6 H16.8" stroke="#8fd2ff" stroke-width="0.9" fill="none" stroke-linecap="round"/>
<path d="M9.9,422.7 L11.7,420.9 L14.2,423.4 L16.1,422.5" stroke="#134a7a" stroke-width="1" fill="none"/>
<g stroke="#787c88" stroke-width="0.9" fill="none"><circle cx="944.8" cy="442.6" r="3"/><path d="M944.8,437.4 V439.6 M944.8,445.2 V447.4 M939.8,442.4 H942 M947.6,442.4 H949.8"/></g>
</svg>
<div class="box" style="left:3.8px;top:18.4px;width:30.2px;height:12px;border:1px solid #a43b3d;background:#131722;"></div>
<div class="box" style="left:53.2px;top:18.4px;width:30px;height:12px;border:1px solid #2a5fb0;background:#131722;"></div>
<div class="box" style="left:89.4px;top:5.0px;width:21px;height:8.6px;border-radius:4.3px;background:#2a2e39;overflow:hidden;"><div style="position:absolute;left:11px;top:0;width:10px;height:8.6px;background:#4d1a38;"></div></div>
<div class="box" style="left:92.2px;top:8.4px;width:5.4px;height:1.8px;border-radius:0.5px;background:#e4e4ea;"></div>
<div class="box" style="left:102.4px;top:7.2px;width:5px;height:1.1px;border-radius:0;background:#c92a66;"></div>
<div class="box" style="left:102.4px;top:9.0px;width:5px;height:1.1px;border-radius:0;background:#c92a66;"></div>
<div class="box" style="left:102.4px;top:10.8px;width:5px;height:1.1px;border-radius:0;background:#c92a66;"></div>
<div class="box" style="left:936.6px;top:4.4px;width:16px;height:10px;border:1px solid #2f3340;background:#131722;"></div>
<div class="t" style="left:934.8px;top:26.5px;font-size:6.35px;color:#d0d2d8;font-weight:400;transform:translate(0,-50%);">208.00</div>
<div class="t" style="left:934.8px;top:51.4px;font-size:6.35px;color:#d0d2d8;font-weight:400;transform:translate(0,-50%);">204.00</div>
<div class="t" style="left:934.8px;top:76.3px;font-size:6.35px;color:#d0d2d8;font-weight:400;transform:translate(0,-50%);">200.00</div>
<div class="t" style="left:934.8px;top:101.19999999999999px;font-size:6.35px;color:#d0d2d8;font-weight:400;transform:translate(0,-50%);">196.00</div>
<div class="t" style="left:934.8px;top:126.1px;font-size:6.35px;color:#d0d2d8;font-weight:400;transform:translate(0,-50%);">192.00</div>
<div class="t" style="left:934.8px;top:151.0px;font-size:6.35px;color:#d0d2d8;font-weight:400;transform:translate(0,-50%);">188.00</div>
<div class="t" style="left:934.8px;top:175.89999999999998px;font-size:6.35px;color:#d0d2d8;font-weight:400;transform:translate(0,-50%);">184.00</div>
<div class="t" style="left:934.8px;top:200.79999999999998px;font-size:6.35px;color:#d0d2d8;font-weight:400;transform:translate(0,-50%);">180.00</div>
<div class="t" style="left:934.8px;top:225.7px;font-size:6.35px;color:#d0d2d8;font-weight:400;transform:translate(0,-50%);">176.00</div>
<div class="t" style="left:934.8px;top:250.6px;font-size:6.35px;color:#d0d2d8;font-weight:400;transform:translate(0,-50%);">172.00</div>
<div class="t" style="left:934.8px;top:275.5px;font-size:6.35px;color:#d0d2d8;font-weight:400;transform:translate(0,-50%);">168.00</div>
<div class="t" style="left:934.8px;top:300.4px;font-size:6.35px;color:#d0d2d8;font-weight:400;transform:translate(0,-50%);">164.00</div>
<div class="t" style="left:934.8px;top:325.29999999999995px;font-size:6.35px;color:#d0d2d8;font-weight:400;transform:translate(0,-50%);">160.00</div>
<div class="t" style="left:934.8px;top:350.2px;font-size:6.35px;color:#d0d2d8;font-weight:400;transform:translate(0,-50%);">156.00</div>
<div class="t" style="left:934.8px;top:375.09999999999997px;font-size:6.35px;color:#d0d2d8;font-weight:400;transform:translate(0,-50%);">152.00</div>
<div class="t" style="left:934.8px;top:400.0px;font-size:6.35px;color:#d0d2d8;font-weight:400;transform:translate(0,-50%);">148.00</div>
<div class="t" style="left:934.8px;top:424.9px;font-size:6.35px;color:#d0d2d8;font-weight:400;transform:translate(0,-50%);">144.00</div>
<div class="t" style="left:31px;top:443.4px;font-size:6.4px;color:#d0d2d8;font-weight:400;transform:translate(-50%,-50%);">13</div>
<div class="t" style="left:73px;top:443.4px;font-size:6.4px;color:#d0d2d8;font-weight:400;transform:translate(-50%,-50%);">21</div>
<div class="t" style="left:137px;top:443.4px;font-size:6.4px;color:#d0d2d8;font-weight:700;transform:translate(-50%,-50%);">Авг</div>
<div class="t" style="left:208px;top:443.4px;font-size:6.4px;color:#d0d2d8;font-weight:400;transform:translate(-50%,-50%);">17</div>
<div class="t" style="left:287px;top:443.4px;font-size:6.4px;color:#d0d2d8;font-weight:700;transform:translate(-50%,-50%);">Сен</div>
<div class="t" style="left:350.5px;top:443.4px;font-size:6.4px;color:#d0d2d8;font-weight:400;transform:translate(-50%,-50%);">14</div>
<div class="t" style="left:393.5px;top:443.4px;font-size:6.4px;color:#d0d2d8;font-weight:400;transform:translate(-50%,-50%);">22</div>
<div class="t" style="left:441.5px;top:443.4px;font-size:6.4px;color:#d0d2d8;font-weight:700;transform:translate(-50%,-50%);">Окт</div>
<div class="t" style="left:492px;top:443.4px;font-size:6.4px;color:#d0d2d8;font-weight:400;transform:translate(-50%,-50%);">12</div>
<div class="t" style="left:534.5px;top:443.4px;font-size:6.4px;color:#d0d2d8;font-weight:400;transform:translate(-50%,-50%);">20</div>
<div class="t" style="left:598.3px;top:443.4px;font-size:6.4px;color:#d0d2d8;font-weight:700;transform:translate(-50%,-50%);">Ноя</div>
<div class="t" style="left:662.5px;top:443.4px;font-size:6.4px;color:#d0d2d8;font-weight:400;transform:translate(-50%,-50%);">16</div>
<div class="t" style="left:740.3px;top:443.4px;font-size:6.4px;color:#d0d2d8;font-weight:700;transform:translate(-50%,-50%);">Дек</div>
<div class="t" style="left:804px;top:443.4px;font-size:6.4px;color:#d0d2d8;font-weight:400;transform:translate(-50%,-50%);">14</div>
<div class="t" style="left:846.3px;top:443.4px;font-size:6.4px;color:#d0d2d8;font-weight:400;transform:translate(-50%,-50%);">22</div>
<div class="t" style="left:903.7px;top:443.4px;font-size:6.4px;color:#d0d2d8;font-weight:700;transform:translate(-50%,-50%);">2021</div>
<div class="t" style="left:5.2px;top:10.2px;font-size:8.3px;color:#e4e5e9;font-weight:400;transform:translate(0,-50%);-webkit-text-stroke:0.35px #e4e5e9;">Газпром</div>
<div class="t" style="left:40.2px;top:10.2px;font-size:8.3px;color:#7b7f8a;font-weight:400;transform:translate(-50%,-50%);">·</div>
<div class="t" style="left:44.4px;top:10.2px;font-size:8.3px;color:#e4e5e9;font-weight:400;transform:translate(0,-50%);-webkit-text-stroke:0.35px #e4e5e9;">1Д</div>
<div class="t" style="left:57.2px;top:10.2px;font-size:8.3px;color:#7b7f8a;font-weight:400;transform:translate(-50%,-50%);">·</div>
<div class="t" style="left:60.4px;top:10.2px;font-size:8.3px;color:#e4e5e9;font-weight:400;transform:translate(0,-50%);letter-spacing:-0.8px;-webkit-text-stroke:0.35px #e4e5e9;">MOEX</div>
<div class="t" style="left:118.3px;top:10.8px;font-size:6.5px;color:#e4e5e9;font-weight:700;transform:translate(0,-50%);">ОТКР</div>
<div class="t" style="left:137px;top:10.8px;font-size:6.5px;color:#54b65e;font-weight:400;transform:translate(0,-50%);">186.21</div>
<div class="t" style="left:160px;top:10.8px;font-size:6.5px;color:#e4e5e9;font-weight:700;transform:translate(0,-50%);letter-spacing:-0.25px;">МАКС</div>
<div class="t" style="left:178.2px;top:10.8px;font-size:6.5px;color:#54b65e;font-weight:400;transform:translate(0,-50%);">189.42</div>
<div class="t" style="left:202px;top:10.8px;font-size:6.5px;color:#e4e5e9;font-weight:700;transform:translate(0,-50%);letter-spacing:-0.25px;">МИН</div>
<div class="t" style="left:217px;top:10.8px;font-size:6.5px;color:#54b65e;font-weight:400;transform:translate(0,-50%);">185.85</div>
<div class="t" style="left:240px;top:10.8px;font-size:6.5px;color:#e4e5e9;font-weight:700;transform:translate(0,-50%);letter-spacing:-0.35px;">ЗАКР</div>
<div class="t" style="left:256.4px;top:10.8px;font-size:6.5px;color:#54b65e;font-weight:400;transform:translate(0,-50%);">188.79</div>
<div class="t" style="left:280px;top:10.8px;font-size:6.5px;color:#54b65e;font-weight:400;transform:translate(0,-50%);">+3.67</div>
<div class="t" style="left:300px;top:10.8px;font-size:6.5px;color:#54b65e;font-weight:400;transform:translate(0,-50%);letter-spacing:-0.3px;">(+1.98%)</div>
<div class="t" style="left:18.9px;top:24.5px;font-size:6.5px;color:#e0524e;font-weight:400;transform:translate(-50%,-50%);">188.79</div>
<div class="t" style="left:38.2px;top:24.5px;font-size:6.2px;color:#c9cbd1;font-weight:400;transform:translate(0,-50%);">0.00</div>
<div class="t" style="left:68.2px;top:24.5px;font-size:6.5px;color:#3f86e0;font-weight:400;transform:translate(-50%,-50%);">188.79</div>
<div class="t" style="left:5.3px;top:39.5px;font-size:6.55px;color:#dfe0e4;font-weight:400;transform:translate(0,-50%);-webkit-text-stroke:0.2px #dfe0e4;">BB 20 close 2 0</div>
<div class="t" style="left:56.8px;top:39.5px;font-size:6.5px;color:#8a3b3f;font-weight:400;transform:translate(0,-50%);">182.30</div>
<div class="t" style="left:80px;top:39.5px;font-size:6.5px;color:#2f9d8c;font-weight:400;transform:translate(0,-50%);">193.72</div>
<div class="t" style="left:103.6px;top:39.5px;font-size:6.5px;color:#2f9d8c;font-weight:400;transform:translate(0,-50%);">170.89</div>
<div class="t" style="left:912.2px;top:145.3px;font-size:5.9px;color:#ffffff;font-weight:400;transform:translate(0,-50%);-webkit-text-stroke:0.25px #fff;">GAZP</div>
<div class="t" style="left:934.8px;top:145.3px;font-size:6.35px;color:#ffffff;font-weight:400;transform:translate(0,-50%);-webkit-text-stroke:0.2px #fff;">188.79</div>
<div class="t" style="left:944.7px;top:9.6px;font-size:6.0px;color:#dfe0e4;font-weight:700;transform:translate(-50%,-50%);">RUB</div>
</body></html>
